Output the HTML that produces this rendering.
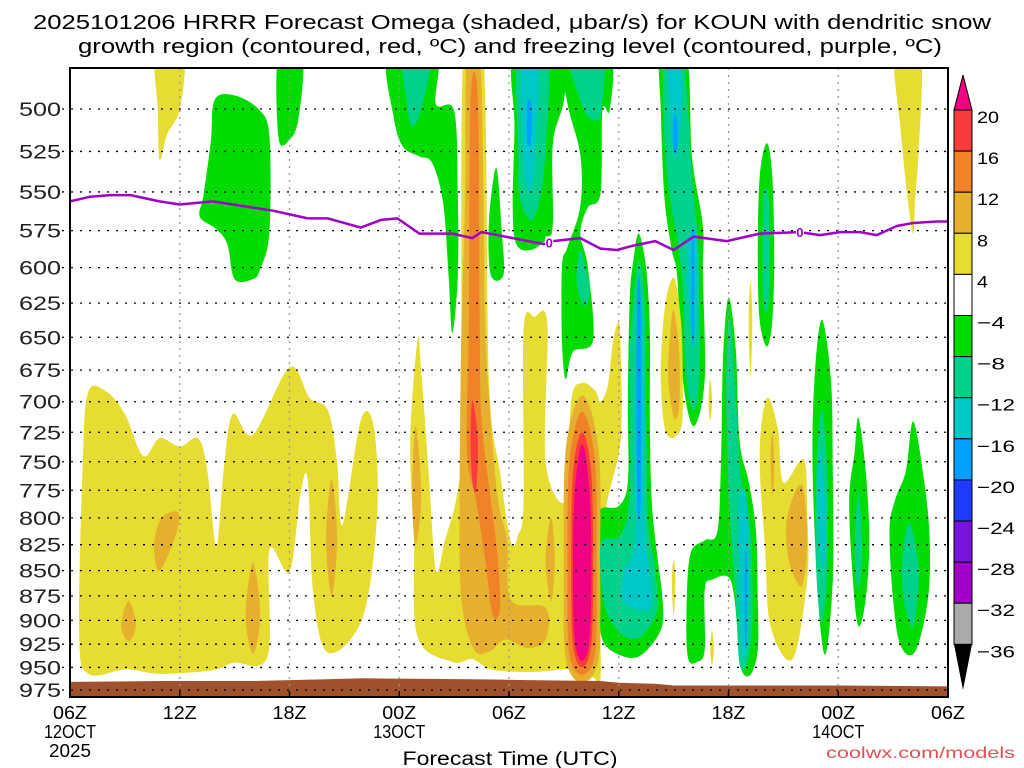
<!DOCTYPE html>
<html><head><meta charset="utf-8"><style>
html,body{margin:0;padding:0;background:#fff;}
svg{display:block;font-family:"Liberation Sans",sans-serif;}
</style></head><body>
<svg id="chart" width="1024" height="768" viewBox="0 0 1024 768" xmlns="http://www.w3.org/2000/svg">
<text x="512" y="29" text-anchor="middle" font-size="20" textLength="958" lengthAdjust="spacingAndGlyphs">2025101206 HRRR Forecast Omega (shaded, μbar/s) for KOUN with dendritic snow</text>
<text x="510" y="53" text-anchor="middle" font-size="20" textLength="864" lengthAdjust="spacingAndGlyphs">growth region (contoured, red, ºC) and freezing level (contoured, purple, ºC)</text>
<defs><clipPath id="plotclip"><rect x="70" y="68" width="878" height="629"/></clipPath></defs>
<g id="shading" clip-path="url(#plotclip)"></g>
<g id="grid"></g>
<g id="lines" clip-path="url(#plotclip)"></g>
<g id="axes"></g>
<g id="cbar"></g>
<text x="510" y="765" text-anchor="middle" font-size="19" textLength="215" lengthAdjust="spacingAndGlyphs">Forecast Time (UTC)</text>
<text x="1015" y="758" text-anchor="end" font-size="16" fill="#e05050" textLength="189" lengthAdjust="spacingAndGlyphs">coolwx.com/models</text>
</svg>
<script>
// ---- data ----
const pressureLevels=[500,525,550,575,600,625,650,675,700,725,750,775,800,825,850,875,900,925,950,975];
const timeTickHours=[0,6,12,18,24,30,36,42,48];
const timeTickLabels=["06Z","12Z","18Z","00Z","06Z","12Z","18Z","00Z","06Z"];
const dateTickHours=[0,18,42];
const dateTickLabels=["12OCT","13OCT","14OCT"];
const cbarLevels=[20,16,12,8,4,-4,-8,-12,-16,-20,-24,-28,-32,-36];
const cbarColors=["#f83c3c","#f08228","#e6af2d","#e6dc32","#ffffff","#00dc00","#00d28c","#00c8c8","#00a0ff","#1e3cff","#7814dc","#a000c8","#aaaaaa"];
const freezeHours=[0,1.1,2.2,3.3,4.9,6.0,7.8,10.0,11.1,13.0,14.1,15.9,17.0,17.9,19.1,20.9,22.0,22.5,24.2,25.9,26.4,27.9,29.0,29.9,30.8,32.0,33.0,34.1,35.9,37.7,39.9,41.0,42.1,43.2,44.1,45.2,46.1,47.4,48];
const freezeP=[556,553,552,552,556,558,556,560,562,567,567,573,568,567,577,577,580,576,580,584,582,580,587,588,585,582,588,579,582,577,576,578,576,576,578,572,570,569,569];
const freezeLabelHours=[26.2,39.9];
const surfHours=[0,5,10,14,16,22,25,29,30,32,33,36,42,48];
const surfP=[966,965,965,963,962,963,964,965,967,968,970,970,970,971];
// omega blobs: level index into cbarColors, points [hour, hPa]
const Y=3,G=2,O=1,R=0,M=-1,GR=5,T=6,C=7,B=8;
const omegaBlobs=[
[Y,[[1.0,692],[2.0,692],[3.0,710],[4.0,745],[4.9,730],[6.0,737],[7.0,730],[7.5,757],[8.0,826],[8.4,757],[8.9,710],[10.0,727],[12.0,673],[13.1,697],[14.1,707],[14.6,750],[14.9,806],[15.9,715],[16.6,720],[16.8,794],[16.0,897],[14.1,934],[13.3,873],[13.0,766],[12.6,778],[12.0,851],[10.9,830],[10.8,938],[8.9,945],[7.8,953],[4.9,957],[3.1,952],[1.0,957],[0.5,913],[0.7,750]]],
[G,[[5.9,795],[5.8,815],[4.9,850],[4.6,825],[5.0,800]]],
[G,[[3.2,880],[3.6,905],[3.2,922],[2.8,905]]],
[G,[[10.0,842],[10.4,895],[10.0,935],[9.6,895]]],
[G,[[14.3,765],[14.6,820],[14.3,875],[14.0,820]]],
[Y,[[4.7,470],[6.2,470],[6.0,500],[5.3,515],[4.9,530],[4.8,500]]],
[GR,[[7.9,495],[8.9,492],[10.3,500],[10.9,516],[10.9,576],[10.4,601],[10.0,608],[9.0,608],[8.6,584],[8.0,574],[7.1,566],[7.3,552],[7.7,519]]],
[GR,[[11.4,470],[12.7,470],[12.5,505],[12.0,518],[11.4,517]]],
[GR,[[17.4,470],[20.0,470],[20.0,497],[21.0,501],[21.2,551],[21.2,606],[20.9,647],[20.7,606],[20.4,557],[19.8,532],[19.1,528],[18.2,522],[17.7,505]]],
[T,[[18.2,470],[19.7,470],[19.2,500],[18.7,510],[18.4,495]]],
[GR,[[23.3,535],[23.6,575],[23.7,605],[23.0,605],[22.9,570]]],
[Y,[[19.0,652],[19.2,675],[19.6,758],[20.0,849],[20.5,821],[21.2,775],[21.4,715],[21.5,470],[22.6,470],[22.9,682],[23.5,758],[24.1,822],[24.5,816],[24.8,784],[24.8,644],[25.4,635],[26.1,640],[26.0,750],[27.1,784],[27.4,699],[28.0,685],[28.7,691],[29.0,700],[29.4,687],[29.7,652],[30.0,639],[30.1,657],[30.1,732],[29.3,793],[29.0,879],[29.0,963],[28.6,961],[28.0,963],[27.3,952],[26.1,954],[24.8,955],[23.0,952],[22.0,941],[20.9,944],[19.0,917],[18.8,821],[18.6,732]]],
[G,[[21.7,470],[22.4,470],[22.6,554],[22.7,644],[23.0,715],[23.4,784],[23.9,821],[24.1,879],[26.0,887],[26.0,920],[25.0,929],[23.8,920],[23.0,932],[22.1,931],[21.4,879],[21.3,784],[21.4,644],[21.6,554]]],
[O,[[21.9,495],[22.3,495],[22.4,644],[22.5,715],[23.0,784],[23.4,840],[23.5,889],[23.1,894],[22.7,840],[22.2,784],[21.7,741],[21.8,644]]],
[R,[[22.0,699],[22.3,732],[22.2,775],[22.0,767],[21.9,732]]],
[G,[[18.9,720],[19.2,780],[18.9,825],[18.7,780]]],
[G,[[26.3,800],[26.5,840],[26.3,880],[26.0,840]]],
[G,[[28.0,695],[28.9,740],[29.0,850],[28.9,940],[28.0,967],[27.1,940],[27.0,850],[27.1,740]]],
[O,[[28.0,708],[28.7,750],[28.8,850],[28.7,935],[28.0,958],[27.3,935],[27.2,850],[27.3,750]]],
[R,[[28.0,725],[28.5,760],[28.6,850],[28.5,925],[28.0,950],[27.5,925],[27.4,850],[27.5,760]]],
[M,[[28.0,735],[28.4,775],[28.5,850],[28.4,920],[28.0,943],[27.6,920],[27.5,850],[27.6,775]]],
[GR,[[24.3,470],[27.0,470],[27.0,495],[26.4,520],[26.4,570],[26.1,580],[25.2,588],[24.4,584],[24.2,560],[24.3,510]]],
[T,[[24.5,470],[26.1,470],[26.0,524],[25.7,554],[25.2,568],[24.6,554],[24.5,524]]],
[C,[[24.7,470],[25.6,470],[25.4,530],[25.1,550],[24.8,530]]],
[B,[[25.0,497],[25.2,497],[25.2,519],[25.0,519]]],
[GR,[[27.0,470],[29.5,470],[29.5,501],[29.1,501],[29.0,551],[28.3,560],[27.9,577],[28.3,599],[28.6,652],[27.5,661],[27.1,682],[26.9,654],[26.9,599],[27.2,586],[27.9,559],[27.9,527],[27.2,497]]],
[T,[[27.3,470],[29.1,470],[29.0,503],[28.4,505],[27.9,495]]],
[T,[[27.9,588],[28.4,615],[28.1,627],[27.7,610]]],
[GR,[[32.3,470],[33.7,470],[34.0,528],[34.6,572],[34.6,604],[34.7,682],[34.1,720],[33.5,682],[33.2,607],[32.9,588],[32.5,554],[32.3,501]]],
[T,[[32.5,470],[33.5,470],[34.0,541],[34.3,576],[34.4,616],[34.4,682],[34.1,707],[33.7,682],[33.5,616],[33.2,580],[32.8,554],[32.5,518]]],
[C,[[32.7,470],[33.3,470],[33.4,506],[33.1,530],[32.8,506]]],
[C,[[33.8,580],[34.3,580],[34.3,640],[34.1,655],[33.8,620]]],
[B,[[33.0,506],[33.2,506],[33.2,524],[33.0,524]]],
[B,[[34.0,580],[34.1,580],[34.1,648],[34.0,648]]],
[GR,[[38.1,520],[38.4,541],[38.5,593],[38.4,637],[38.1,657],[37.7,637],[37.6,593],[37.7,541]]],
[T,[[37.9,555],[38.2,555],[38.2,623],[37.9,623]]],
[GR,[[31.1,577],[31.5,601],[31.7,644],[31.7,715],[31.8,784],[32.1,835],[32.4,879],[32.3,910],[31.2,937],[30.1,937],[29.1,920],[29.0,879],[29.0,802],[29.1,791],[30.0,789],[30.5,767],[30.5,699],[30.6,623],[30.8,595]]],
[T,[[31.1,595],[31.4,623],[31.5,715],[31.6,802],[32.0,849],[32.1,889],[31.2,917],[30.2,915],[29.3,889],[29.0,849],[29.1,821],[30.1,816],[30.6,775],[30.6,667],[30.8,623]]],
[C,[[31.2,623],[31.4,699],[31.4,802],[31.7,854],[31.8,884],[31.1,889],[30.2,879],[30.3,849],[30.9,821],[30.9,699]]],
[B,[[31.0,623],[31.2,623],[31.2,780],[31.0,780]]],
[GR,[[36.0,621],[36.4,659],[36.6,732],[37.1,767],[37.5,812],[37.6,879],[37.6,931],[37.2,958],[36.7,952],[36.5,910],[36.1,859],[35.1,859],[34.7,869],[34.7,931],[34.3,944],[33.8,941],[33.7,899],[33.9,835],[34.7,821],[35.4,812],[35.6,741],[35.7,667]]],
[T,[[36.1,637],[36.4,699],[36.7,767],[37.2,812],[37.3,899],[37.0,946],[36.6,946],[36.4,879],[36.1,802],[35.9,724],[35.9,659]]],
[C,[[36.6,784],[37.0,784],[37.1,870],[36.9,935],[36.7,935],[36.6,870]]],
[B,[[36.9,840],[37.0,840],[37.0,920],[36.9,920]]],
[Y,[[33.0,607],[33.4,637],[33.5,682],[33.4,722],[32.6,726],[32.3,682],[32.5,630]]],
[G,[[33.0,630],[33.3,660],[33.3,705],[33.0,712],[32.7,680],[32.8,650]]],
[Y,[[37.2,610],[37.3,640],[37.2,680],[37.1,640]]],
[Y,[[35.0,682],[35.1,700],[35.0,715],[34.9,700]]],
[Y,[[33.0,840],[33.1,860],[33.0,895],[32.9,860]]],
[Y,[[35.1,910],[35.2,930],[35.1,948],[35.0,930]]],
[Y,[[38.1,697],[38.7,722],[39.0,768],[40.1,748],[40.3,794],[40.3,859],[39.5,941],[38.3,906],[38.0,830],[37.7,743]]],
[G,[[40.0,770],[40.3,820],[40.0,865],[39.3,840],[39.2,800]]],
[G,[[38.4,725],[38.5,755],[38.4,780],[38.3,750]]],
[GR,[[41.1,637],[41.6,682],[41.7,758],[41.7,859],[41.3,936],[40.9,879],[40.6,758],[40.7,682]]],
[T,[[41.1,706],[41.4,760],[41.4,850],[41.1,902],[40.8,850],[40.8,760]]],
[C,[[41.0,740],[41.3,790],[41.2,855],[40.9,800]]],
[GR,[[43.1,713],[43.5,758],[43.7,821],[43.5,879],[43.1,906],[42.8,859],[42.6,784],[42.9,741]]],
[T,[[43.1,775],[43.3,830],[43.1,869],[42.9,830]]],
[GR,[[46.1,716],[46.7,767],[47.0,821],[46.9,879],[46.2,933],[45.4,926],[45.0,879],[44.8,812],[45.1,784],[45.7,758]]],
[T,[[45.9,805],[46.4,850],[46.1,906],[45.6,880],[45.5,840]]],
[Y,[[45.1,470],[46.5,470],[46.4,524],[46.2,555],[46.1,577],[45.8,555],[45.4,511]]]
];
// ---- scales ----
const X0=70,X1=948,Y0=68,Y1=697;
function xs(h){return X0+h*(X1-X0)/48;}
function ys(p){return 109+870*Math.log(p/500);}
const NS="http://www.w3.org/2000/svg";
function mk(tag,attrs,parent){const e=document.createElementNS(NS,tag);for(const k in attrs)e.setAttribute(k,attrs[k]);parent.appendChild(e);return e;}
function smoothClosed(pts){
  const n=pts.length;let d="M"+pts[0][0].toFixed(1)+","+pts[0][1].toFixed(1);
  for(let i=0;i<n;i++){
    const p0=pts[(i-1+n)%n],p1=pts[i],p2=pts[(i+1)%n],p3=pts[(i+2)%n];
    const c1=[p1[0]+(p2[0]-p0[0])/6,p1[1]+(p2[1]-p0[1])/6];
    const c2=[p2[0]-(p3[0]-p1[0])/6,p2[1]-(p3[1]-p1[1])/6];
    d+="C"+c1[0].toFixed(1)+","+c1[1].toFixed(1)+" "+c2[0].toFixed(1)+","+c2[1].toFixed(1)+" "+p2[0].toFixed(1)+","+p2[1].toFixed(1);
  }
  return d+"Z";
}
const shading=document.getElementById('shading');
omegaBlobs.forEach((b,i)=>{
  const col=b[0]<0?"#f00082":cbarColors[b[0]];
  const pts=b[1].map(q=>[xs(q[0]),ys(q[1])]);
  const el=mk('path',{d:smoothClosed(pts),fill:col},shading);
  
  
});
// terrain
{
  let d="M"+xs(surfHours[0])+","+Y1;
  surfHours.forEach((h,i)=>{d+="L"+xs(h).toFixed(1)+","+ys(surfP[i]).toFixed(1);});
  d+="L"+xs(surfHours[surfHours.length-1])+","+Y1+"Z";
  const el=mk('path',{d:d,fill:"#a0522d"},shading);
  
  
}
// grid
const grid=document.getElementById('grid');
pressureLevels.forEach(p=>{
  const el=mk('line',{x1:62,x2:X1,y1:ys(p),y2:ys(p),stroke:"#000","stroke-width":1.3,"stroke-dasharray":"2,7"},grid);
  
  
});
timeTickHours.slice(1,-1).forEach(h=>{
  const el=mk('line',{x1:xs(h),x2:xs(h),y1:Y0,y2:Y1,stroke:"#999","stroke-width":1.3,"stroke-dasharray":"2,5"},grid);
  
  
});
// freezing line
const lines=document.getElementById('lines');
{
  let d="";
  freezeHours.forEach((h,i)=>{d+=(i?"L":"M")+xs(h).toFixed(1)+","+ys(freezeP[i]).toFixed(1);});
  const el=mk('path',{d:d,fill:"none",stroke:"#a000c8","stroke-width":2.5,"stroke-linejoin":"round"},lines);
  
  
  freezeLabelHours.forEach(h=>{
    let k=0;for(let i=0;i<freezeHours.length;i++){if(freezeHours[i]<=h)k=i;}
    const k2=Math.min(k+1,freezeHours.length-1);
    const f=(h-freezeHours[k])/((freezeHours[k2]-freezeHours[k])||1);
    const p=freezeP[k]+f*(freezeP[k2]-freezeP[k]);
    const r=mk('rect',{x:xs(h)-4,y:ys(p)-6,width:8,height:12,fill:"#fff"},lines);
    
    
    const t=mk('text',{x:xs(h),y:ys(p)+5,"text-anchor":"middle","font-size":13,"font-weight":"bold",fill:"#a000c8"},lines);
    t.textContent="0";
    
    
  });
}
// axes
const axes=document.getElementById('axes');
{
  const fr=mk('rect',{x:X0,y:Y0,width:X1-X0,height:Y1-Y0,fill:"none",stroke:"#000","stroke-width":2},axes);
  
  
  pressureLevels.forEach(p=>{
    const t=mk('text',{x:61,y:ys(p)+7,"text-anchor":"end","font-size":19,textLength:42,lengthAdjust:"spacingAndGlyphs",fill:"#222"},axes);
    t.textContent=String(p);
    
    
  });
  timeTickHours.forEach((h,i)=>{
    const l=mk('line',{x1:xs(h),x2:xs(h),y1:Y1,y2:Y1-6,stroke:"#000","stroke-width":1.5},axes);
    
    
    const t=mk('text',{x:xs(h),y:719,"text-anchor":"middle","font-size":18,textLength:34,lengthAdjust:"spacingAndGlyphs"},axes);
    t.textContent=timeTickLabels[i];
    
    
  });
  dateTickHours.forEach((h,i)=>{
    const t=mk('text',{x:xs(h),y:738,"text-anchor":"middle","font-size":18,textLength:52,lengthAdjust:"spacingAndGlyphs"},axes);
    t.textContent=dateTickLabels[i];
    
    
  });
  const yr=mk('text',{x:xs(0),y:757,"text-anchor":"middle","font-size":18,textLength:42,lengthAdjust:"spacingAndGlyphs"},axes);
  yr.textContent="2025";
  
  
}
// colorbar
const cbar=document.getElementById('cbar');
{
  const cx0=954,cx1=972,top=110,bh=41.1;
  const tri=mk('polygon',{points:cx0+","+top+" "+cx1+","+top+" "+((cx0+cx1)/2)+",75",fill:"#f00082",stroke:"#000","stroke-width":1},cbar);
  
  
  cbarColors.forEach((c,i)=>{
    const r=mk('rect',{x:cx0,y:top+i*bh,width:cx1-cx0,height:bh,fill:c,stroke:"#000","stroke-width":1},cbar);
    
    
  });
  const bot=top+cbarColors.length*bh;
  const tri2=mk('polygon',{points:cx0+","+bot+" "+cx1+","+bot+" "+((cx0+cx1)/2)+",690",fill:"#000"},cbar);
  
  
  cbarLevels.forEach((v,i)=>{
    const s=v<0?"\u2212"+(-v):String(v);
    const t=mk('text',{x:977,y:top+i*bh+13,"font-size":17,textLength:v<0?(s.length>2?38:28):(s.length>1?22:11),lengthAdjust:"spacingAndGlyphs"},cbar);
    t.textContent=s;
    
    
  });
}
</script>
</body></html>
